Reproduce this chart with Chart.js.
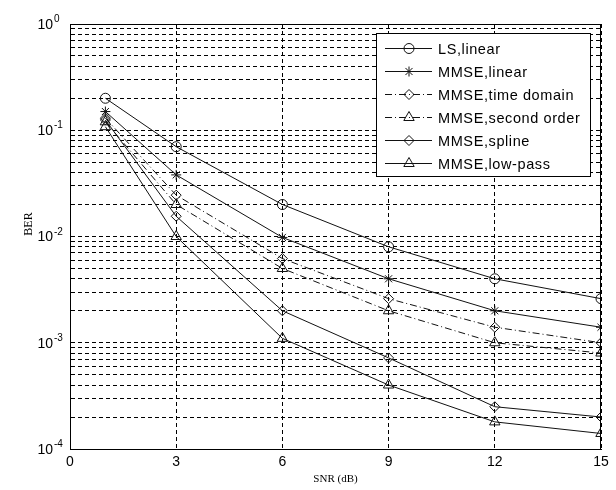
<!DOCTYPE html>
<html>
<head>
<meta charset="utf-8">
<script src="https://cdn.jsdelivr.net/npm/chart.js@4"></script>
<style>
  html, body { margin: 0; padding: 0; background: #fff; }
  #wrap { width: 616px; height: 490px; position: relative; }
</style>
</head>
<body>
<div id="wrap"><canvas id="chart"></canvas></div>
<script>
// x values (SNR in dB) and BER for every curve
const snr = [1, 3, 6, 9, 12, 15];
const lsLinear    = [0.2, 0.07, 0.02, 0.008, 0.004, 0.0026];
const mmseLinear  = [0.15, 0.038, 0.0098, 0.004, 0.002, 0.0014];
const mmseTime    = [0.13, 0.0245, 0.0062, 0.0026, 0.0014, 0.001];
const mmseSecond  = [0.12, 0.02, 0.005, 0.002, 0.001, 0.0008];
const mmseSpline  = [0.125, 0.0155, 0.002, 0.00072, 0.00025, 0.0002];
const mmseLowpass = [0.108, 0.01, 0.0011, 0.0004, 0.00018, 0.00014];

const seriesNames = ['LS,linear', 'MMSE,linear', 'MMSE,time domain',
                     'MMSE,second order', 'MMSE,spline', 'MMSE,low-pass'];

// tick labels
const snrTicks = [0, 3, 6, 9, 12, 15];
const decadeExps = [0, -1, -2, -3, -4];
const mantissas = [1, 2, 3, 4, 5, 6, 7, 8, 9];

// grid ticks on the log axis: every mantissa in every decade
const berTicks = [];
decadeExps.forEach(e => {
  if (e === 0) { berTicks.push(1); return; }
  mantissas.forEach(m => berTicks.push(m * Math.pow(10, e)));
});

function series(label, values, style, dash) {
  return {
    label: label,
    data: values.map((v, i) => ({ x: snr[i], y: v })),
    borderColor: '#111',
    borderWidth: 1,
    borderDash: dash,
    pointStyle: style,
    pointRadius: style === 'triangle' ? 6 : 5,
    pointHoverRadius: style === 'triangle' ? 6 : 5,
    pointBorderColor: '#111',
    pointBorderWidth: 1,
    pointBackgroundColor: 'rgba(0,0,0,0)',
    tension: 0,
    fill: false
  };
}

const dashDot = [7, 3, 1, 3];

// frame, y labels and the boxed legend
const matlabLook = {
  id: 'matlabLook',
  afterDraw(chart) {
    const ctx = chart.ctx;
    const a = chart.chartArea;
    const y = chart.scales.y;

    // box round the axes
    ctx.save();
    ctx.strokeStyle = '#000';
    ctx.lineWidth = 1;
    ctx.strokeRect(Math.round(a.left) + 0.5, Math.round(a.top) + 0.5,
                   Math.round(a.right - a.left) - 1, Math.round(a.bottom - a.top));

    // 10^n labels
    ctx.fillStyle = '#000';
    decadeExps.forEach(e => {
      const py = y.getPixelForValue(Math.pow(10, e));
      ctx.font = '14px "Liberation Sans", Arial, sans-serif';
      ctx.textAlign = 'right';
      ctx.textBaseline = 'middle';
      ctx.fillText('10', a.left - 17, py + 1);
      ctx.font = '10px "Liberation Sans", Arial, sans-serif';
      ctx.textAlign = 'left';
      ctx.textBaseline = 'alphabetic';
      ctx.fillText(String(e), a.left - 16, py - 2);
    });

    // y title
    ctx.save();
    ctx.translate(29, 224);
    ctx.rotate(-Math.PI / 2);
    ctx.font = '12px "Liberation Serif", "Times New Roman", serif';
    ctx.textAlign = 'center';
    ctx.textBaseline = 'middle';
    ctx.fillText('BER', 0, 0);
    ctx.restore();

    // legend
    const bx = a.right - 225, by = a.top + 9, bw = 214, bh = 143;
    ctx.fillStyle = '#fff';
    ctx.fillRect(bx, by, bw, bh);
    ctx.strokeStyle = '#000';
    ctx.strokeRect(bx + 0.5, by + 0.5, bw, bh);
    chart.data.datasets.forEach((ds, i) => {
      const ry = Math.round(by + 15 + i * 23) + 0.5;
      ctx.save();
      ctx.strokeStyle = ds.borderColor;
      ctx.lineWidth = 1;
      ctx.setLineDash(ds.borderDash || []);
      ctx.beginPath();
      ctx.moveTo(bx + 9, ry);
      ctx.lineTo(bx + 56, ry);
      ctx.stroke();
      ctx.setLineDash([]);
      ctx.fillStyle = 'rgba(0,0,0,0)';
      Chart.helpers.drawPoint(ctx, {
        pointStyle: ds.pointStyle, radius: ds.pointRadius, rotation: 0, borderWidth: 1
      }, bx + 33, ry);
      ctx.restore();
      ctx.save();
      ctx.fillStyle = '#000';
      ctx.font = '14.5px "Liberation Sans", Arial, sans-serif';
      ctx.letterSpacing = '0.6px';
      ctx.textAlign = 'left';
      ctx.textBaseline = 'middle';
      ctx.fillText(ds.label, bx + 62, ry + 1);
      ctx.restore();
    });
    ctx.restore();
  }
};

new Chart(document.getElementById('chart'), {
  type: 'line',
  data: {
    datasets: [
      series(seriesNames[0], lsLinear, 'circle', []),
      series(seriesNames[1], mmseLinear, 'star', []),
      series(seriesNames[2], mmseTime, 'rectRot', dashDot),
      series(seriesNames[3], mmseSecond, 'triangle', dashDot),
      series(seriesNames[4], mmseSpline, 'rectRot', []),
      series(seriesNames[5], mmseLowpass, 'triangle', [])
    ]
  },
  options: {
    responsive: true,
    maintainAspectRatio: false,
    animation: false,
    layout: { padding: { top: 24, right: 15, left: 0, bottom: 0 } },
    plugins: { legend: { display: false }, tooltip: { enabled: false } },
    scales: {
      x: {
        type: 'linear',
        min: 0,
        max: 15,
        afterBuildTicks: s => { s.ticks = snrTicks.map(v => ({ value: v })); },
        afterFit: s => { s.height = 41; },
        grid: { color: '#000', lineWidth: 1, drawTicks: false },
        border: { display: true, color: '#000', width: 1, dash: [4, 3] },
        ticks: {
          color: '#000',
          padding: 5,
          font: { family: '"Liberation Sans", Arial, sans-serif', size: 14 }
        },
        title: {
          display: true,
          text: 'SNR (dB)',
          color: '#000',
          padding: { top: 0, bottom: 4 },
          font: { family: '"Liberation Serif", "Times New Roman", serif', size: 11 }
        }
      },
      y: {
        type: 'logarithmic',
        min: 1e-4,
        max: 1,
        afterBuildTicks: s => { s.ticks = berTicks.map(v => ({ value: v })); },
        afterFit: s => { s.width = 70; },
        grid: { color: '#000', lineWidth: 1, drawTicks: false },
        border: { display: true, color: '#000', width: 1, dash: [4, 3] },
        ticks: { display: false }
      }
    }
  },
  plugins: [matlabLook]
});
</script>
</body>
</html>
